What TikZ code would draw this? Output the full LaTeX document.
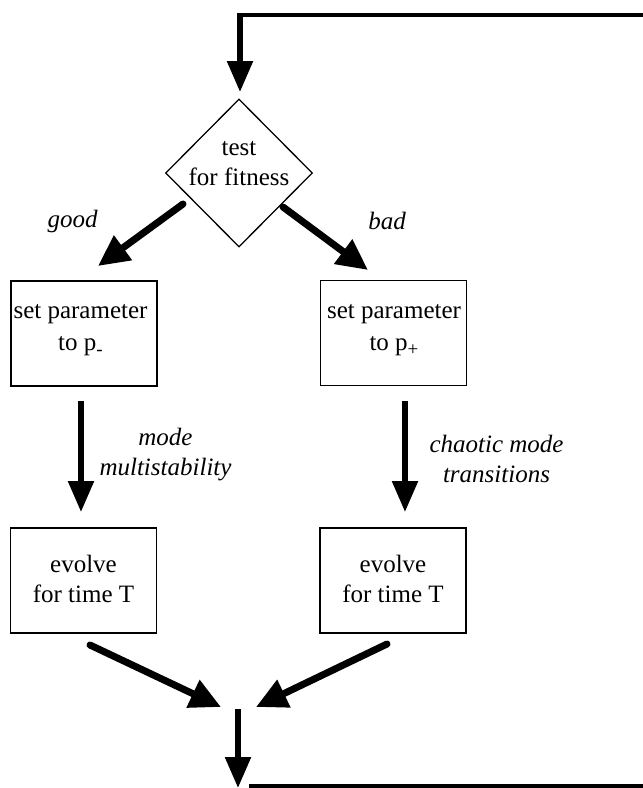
\documentclass[tikz,border=0pt]{standalone}
\usepackage{fontspec}
\setmainfont{Liberation Serif}
\usetikzlibrary{arrows.meta,shapes.geometric}

\newcommand{\lowsign}[1]{\raisebox{-5pt}{\fontsize{19}{19}\selectfont #1}}

\tikzset{
  stepbox/.style={draw, line width=1.8pt, minimum width=146pt, minimum height=105pt,
                  inner sep=0pt},
  testshape/.style={draw, diamond, line width=1.3pt, minimum width=147pt,
                  minimum height=148pt, inner sep=0pt},
  boxtext/.style={align=center, inner sep=0pt, font=\fontsize{25}{30}\selectfont},
  edgetext/.style={align=center, inner sep=0pt, font=\fontsize{25}{30}\selectfont\itshape},
  straightarrow/.style={line width=5.5pt, -{Triangle[length=31pt, width=25pt]}},
  slantarrow/.style={line width=7pt, line cap=round, -{Triangle[length=31pt, width=29pt]}},
  loopline/.style={line width=4pt},
}

\begin{document}
\begin{tikzpicture}[x=1pt, y=-1pt]
  \useasboundingbox (0,0) rectangle (643,788);

  % decision
  \node[testshape] (test) at (239,173) {};
  \node[boxtext] (testtext) at (239,164) {test\\for fitness};

  % parameter setting
  \node[stepbox] (setL) at (84,333.5) {};
  \node[boxtext, font=\fontsize{25}{32}\selectfont] (setLtext) at (80.5,330) {set parameter\\to p\lowsign{-}};
  \node[stepbox] (setR) at (393.5,333) {};
  \node[boxtext, font=\fontsize{25}{32}\selectfont] (setRtext) at (394,330) {set parameter\\to p\lowsign{+}};

  % evolution
  \node[stepbox] (evoL) at (83.5,580.5) {};
  \node[boxtext] (evoLtext) at (83.5,578.5) {evolve\\for time T};
  \node[stepbox] (evoR) at (393,580.5) {};
  \node[boxtext] (evoRtext) at (393,578.5) {evolve\\for time T};

  % edge labels
  \node[edgetext] (goodlbl) at (72.5,221) {good};
  \node[edgetext] (badlbl) at (387,221) {bad};
  \node[edgetext] (multilbl) at (165.5,454.5) {mode\\multistability};
  \node[edgetext] (chaoslbl) at (496.5,459) {chaotic mode\\transitions};

  % arrow end points
  \coordinate (loopin) at (643,15);
  \coordinate (intop) at (240,92);
  \coordinate (goodS) at (183,204);
  \coordinate (goodE) at (98,266);
  \coordinate (badS) at (283,207);
  \coordinate (badE) at (368,270);
  \coordinate (vLS) at (81,401);
  \coordinate (vLE) at (81,512);
  \coordinate (vRS) at (405,401);
  \coordinate (vRE) at (405,512);
  \coordinate (mLS) at (90,645);
  \coordinate (mLE) at (221,707);
  \coordinate (mRS) at (387,644);
  \coordinate (mRE) at (256,707);
  \coordinate (outS) at (238,709);
  \coordinate (outE) at (238,788);
  \coordinate (loopoutS) at (249,786);
  \coordinate (loopoutE) at (643,786);

  % feedback entry
  \draw[loopline] (loopin) -- (240,15);
  \draw[straightarrow] (240,13) -- (intop);

  % branches
  \draw[slantarrow] (goodS) -- (goodE);
  \draw[slantarrow] (badS) -- (badE);
  \draw[straightarrow] (vLS) -- (vLE);
  \draw[straightarrow] (vRS) -- (vRE);
  \draw[slantarrow] (mLS) -- (mLE);
  \draw[slantarrow] (mRS) -- (mRE);

  % feedback exit
  \draw[straightarrow] (outS) -- (outE);
  \draw[loopline] (loopoutS) -- (loopoutE);
\end{tikzpicture}
\end{document}
